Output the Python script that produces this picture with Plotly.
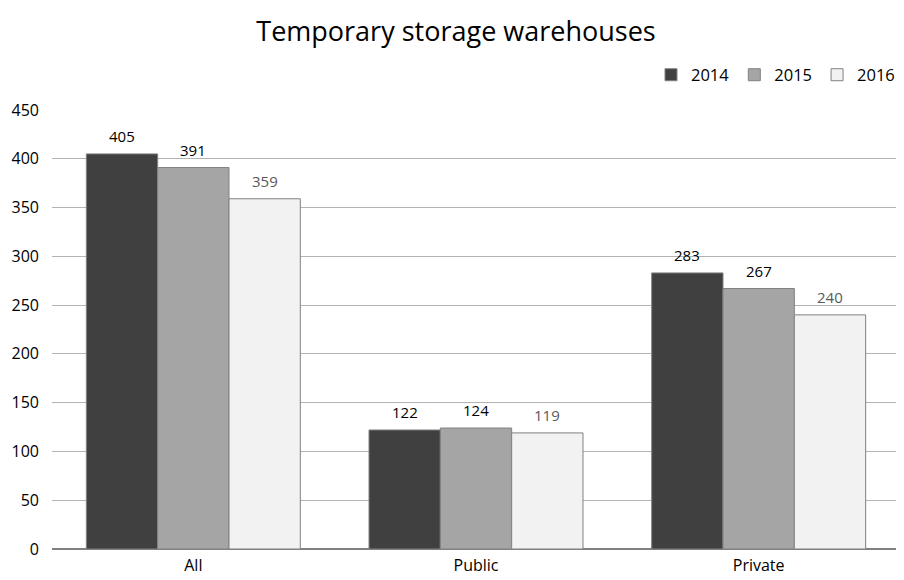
import plotly.graph_objects as go

categories = ["All", "Public", "Private"]
years = ["2014", "2015", "2016"]
values_2014 = [405, 122, 283]
values_2015 = [391, 124, 267]
values_2016 = [359, 119, 240]

series = [
    ("2014", values_2014, "#404040", "#000000"),
    ("2015", values_2015, "#a5a5a5", "#000000"),
    ("2016", values_2016, "#f2f2f2", "#595959"),
]

FONT = "Open Sans, Noto Sans, sans-serif"

# la pagina html tiene 8px de margen en body: la figura se reduce en 8px
FIG_W, FIG_H = 896, 572
M_L, M_R, M_T, M_B = 44, 4, 102, 31
PLOT_W = FIG_W - M_L - M_R
PLOT_H = FIG_H - M_T - M_B
BARGAP = 0.243
bar_px = PLOT_W / len(categories) * (1 - BARGAP) / len(series)

fig = go.Figure()
for i, (name, vals, color, text_color) in enumerate(series):
    fig.add_trace(
        go.Bar(
            name=name,
            x=categories,
            y=vals,
            marker=dict(color=color, line=dict(color="#808080", width=1)),
        )
    )
    shift = (i - (len(series) - 1) / 2) * bar_px
    for cat, v in zip(categories, vals):
        fig.add_annotation(
            x=cat,
            y=v,
            text=str(v),
            showarrow=False,
            xshift=shift,
            yshift=18,
            yanchor="middle",
            font=dict(size=15, color=text_color, family=FONT),
        )

fig.update_layout(
    width=FIG_W,
    height=FIG_H,
    margin=dict(l=M_L, r=M_R, t=M_T, b=M_B),
    paper_bgcolor="white",
    plot_bgcolor="white",
    barmode="group",
    bargap=BARGAP,
    bargroupgap=0,
    font=dict(family=FONT, size=16, color="#000000"),
    title=dict(
        text="Temporary storage warehouses",
        x=0.5,
        xanchor="center",
        y=1 - 24 / FIG_H,
        yanchor="middle",
        font=dict(size=27, color="#000000", family=FONT),
    ),
    legend=dict(
        orientation="h",
        x=1.0,
        xanchor="right",
        y=1 + 35 / PLOT_H,
        yanchor="middle",
        font=dict(size=16.5, family=FONT),
        itemwidth=30,
        traceorder="normal",
        bgcolor="rgba(0,0,0,0)",
    ),
    xaxis=dict(
        automargin=False,
        showgrid=False,
        showline=True,
        linecolor="#808080",
        linewidth=1,
        ticks="",
        tickfont=dict(size=16),
        ticklabelstandoff=2,
    ),
    yaxis=dict(
        automargin=False,
        range=[0, 450],
        dtick=50,
        showgrid=True,
        gridcolor="#b3b3b3",
        gridwidth=1,
        zeroline=True,
        zerolinecolor="#808080",
        ticks="",
        tickfont=dict(size=16),
        ticklabelstandoff=12,
    ),
)

fig.write_html("out.html")
